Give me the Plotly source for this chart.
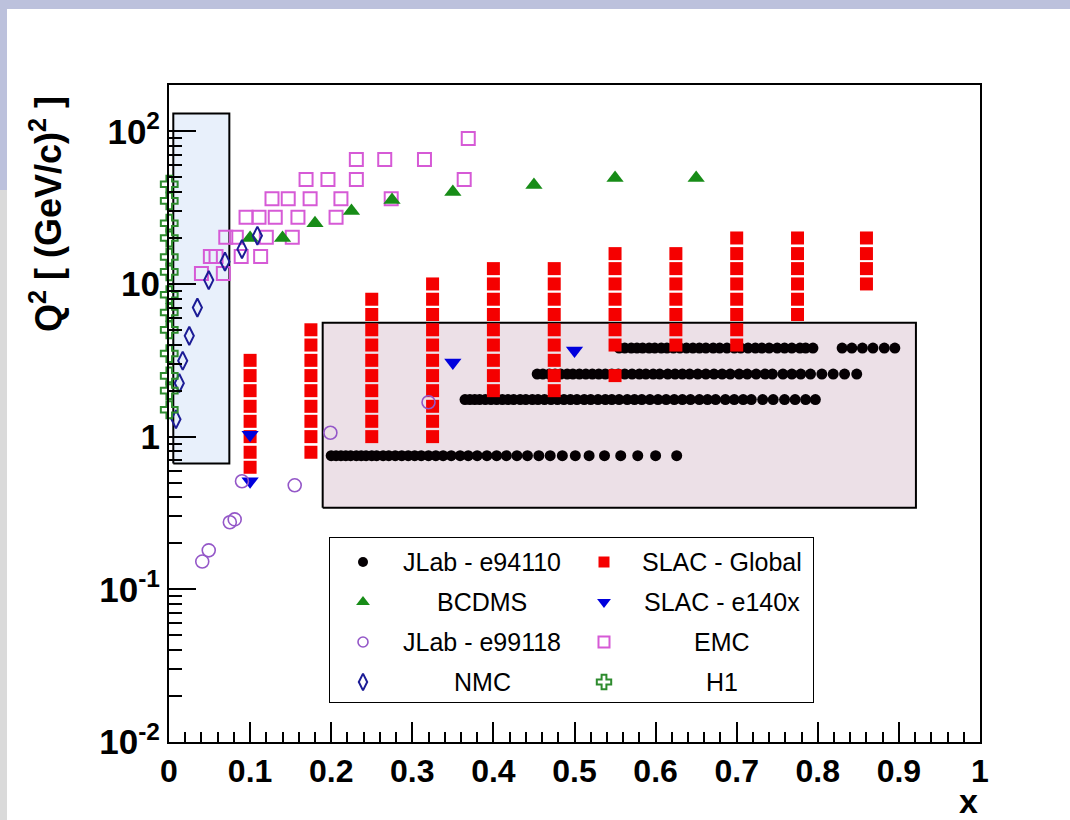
import plotly.graph_objects as go

# ------------------------------------------------------------------ data
# JLab - e94110 : rows of constant Q^2
jlab94110_q2_rows = [0.75, 1.75, 2.57, 3.8]
jlab94110_x_row1 = [0.200, 0.206, 0.212, 0.218, 0.224, 0.231, 0.237, 0.243, 0.250, 0.256,
                    0.264, 0.271, 0.279, 0.287, 0.295, 0.303, 0.311, 0.320, 0.329, 0.338,
                    0.348, 0.359, 0.369, 0.380, 0.392, 0.404, 0.416, 0.429, 0.442, 0.456,
                    0.470, 0.485, 0.501, 0.518, 0.537, 0.557, 0.578, 0.600, 0.626]
jlab94110_x_row2 = [0.365, 0.371, 0.377, 0.383, 0.390, 0.397, 0.404, 0.411, 0.418, 0.425,
                    0.433, 0.440, 0.448, 0.455, 0.463, 0.471, 0.479, 0.487, 0.495, 0.503,
                    0.512, 0.520, 0.529, 0.538, 0.546, 0.555, 0.565, 0.574, 0.583, 0.593,
                    0.603, 0.613, 0.623, 0.633, 0.643, 0.654, 0.664, 0.674, 0.686, 0.697,
                    0.708, 0.718, 0.732, 0.745, 0.759, 0.772, 0.785, 0.797]
jlab94110_x_row3 = [0.454, 0.461, 0.469, 0.476, 0.483, 0.491, 0.498, 0.506, 0.514, 0.522,
                    0.530, 0.538, 0.546, 0.554, 0.562, 0.571, 0.580, 0.588, 0.597, 0.605,
                    0.615, 0.624, 0.633, 0.642, 0.652, 0.662, 0.672, 0.682, 0.692, 0.703,
                    0.713, 0.724, 0.735, 0.744, 0.757, 0.768, 0.779, 0.791, 0.805, 0.819,
                    0.833, 0.848]
jlab94110_x_row4 = [0.555, 0.562, 0.570, 0.577, 0.584, 0.592, 0.599, 0.607, 0.614, 0.622,
                    0.630, 0.638, 0.646, 0.654, 0.662, 0.671, 0.679, 0.688, 0.697, 0.705,
                    0.714, 0.723, 0.731, 0.740, 0.750, 0.759, 0.768, 0.778, 0.785, 0.794,
                    0.830, 0.842, 0.855, 0.868, 0.882, 0.895]

# SLAC - Global : columns of constant x
slac_x_cols = [0.1, 0.175, 0.25, 0.325, 0.4, 0.475, 0.55, 0.625, 0.7, 0.775, 0.86]
slac_q2_cols = [
    [0.63, 0.79, 1.0, 1.26, 1.58, 2.0, 2.51, 3.16],
    [0.79, 1.0, 1.26, 1.58, 2.0, 2.51, 3.16, 3.98, 5.01],
    [1.0, 1.26, 1.58, 2.0, 2.51, 3.16, 3.98, 5.01, 6.31, 7.94],
    [1.0, 1.26, 1.58, 2.0, 2.51, 3.16, 3.98, 5.01, 6.31, 7.94, 10.0],
    [2.0, 2.51, 3.16, 3.98, 5.01, 6.31, 7.94, 10.0, 12.6],
    [2.0, 2.51, 3.16, 3.98, 5.01, 6.31, 7.94, 10.0, 12.6],
    [2.51, 3.98, 5.01, 6.31, 7.94, 10.0, 12.6, 15.8],
    [3.98, 5.01, 6.31, 7.94, 10.0, 12.6, 15.8],
    [3.98, 5.01, 6.31, 7.94, 10.0, 12.6, 15.8, 20.0],
    [6.31, 7.94, 10.0, 12.6, 15.8, 20.0],
    [10.0, 12.6, 15.8, 20.0],
]

bcdms_x = [0.10, 0.14, 0.18, 0.225, 0.275, 0.35, 0.45, 0.55, 0.65]
bcdms_q2 = [20.0, 20.0, 25.0, 30.0, 35.5, 40.0, 44.5, 49.5, 49.5]

e140x_x = [0.1, 0.1, 0.35, 0.5]
e140x_q2 = [0.51, 1.03, 3.06, 3.66]

e99118_x = [0.041, 0.049, 0.075, 0.081, 0.090, 0.155, 0.199, 0.320]
e99118_q2 = [0.152, 0.180, 0.275, 0.287, 0.51, 0.48, 1.06, 1.68]

emc_x = [0.369, 0.231, 0.266, 0.315, 0.169, 0.196, 0.231, 0.364,
         0.127, 0.147, 0.174, 0.212, 0.274, 0.095, 0.111, 0.131, 0.159, 0.206,
         0.070, 0.083, 0.120, 0.152, 0.051, 0.058, 0.089, 0.113, 0.040, 0.067]
emc_q2 = [89.6, 65.3, 65.3, 65.3, 48.3, 48.3, 48.3, 48.3,
          36.1, 36.1, 36.1, 36.1, 36.1, 27.3, 27.3, 27.3, 27.3, 27.3,
          20.2, 20.2, 20.2, 20.2, 15.1, 15.1, 15.1, 15.1, 11.7, 11.7]

nmc_x = [0.0086, 0.0127, 0.0169, 0.025, 0.035, 0.049, 0.069, 0.090, 0.109]
nmc_q2 = [1.30, 2.24, 3.14, 4.57, 7.0, 10.6, 14.0, 16.9, 20.7]

h1_x = [0.0003] * 13
h1_q2 = [1.5, 2.0, 2.5, 3.5, 5.0, 6.5, 8.5, 12.0, 15.0, 20.0, 25.0, 35.0, 45.0]

# highlighted regions (x range, Q^2 range)
low_x_region_x = [0.0053, 0.0744]
low_x_region_q2 = [0.667, 130.6]
jlab_region_x = [0.1895, 0.921]
jlab_region_q2 = [0.342, 5.58]

x_tick_vals = [0, 0.1, 0.2, 0.3, 0.4, 0.5, 0.6, 0.7, 0.8, 0.9, 1.0]
x_tick_text = ["0", "0.1", "0.2", "0.3", "0.4", "0.5", "0.6", "0.7", "0.8", "0.9", "1"]
y_tick_vals = [0.01, 0.1, 1, 10, 100]
y_tick_text = ["10<sup>-2</sup>", "10<sup>-1</sup>", "1", "10", "10<sup>2</sup>"]

legend_labels = ["JLab - e94110", "SLAC - Global", "BCDMS", "SLAC - e140x",
                 "JLab - e99118", "EMC", "NMC", "H1"]

# ------------------------------------------------------------------ layout geometry
W, H = 1070, 820
L, R, T, B = 169, 980, 85, 742   # plot area in pixels
PW, PH = R - L, B - T


def px_x(px):
    return (px - L) / PW


def px_y(py):
    return (B - py) / PH


FONT = "Liberation Sans, Arial, Helvetica, sans-serif"

styles = {
    "JLab - e94110": dict(symbol="circle", size=11, color="#050003"),
    "SLAC - Global": dict(symbol="square", size=13, color="#f50000"),
    "BCDMS": dict(symbol="triangle-up", size=15, color="#178c17"),
    "SLAC - e140x": dict(symbol="triangle-down", size=15, color="#0000dd"),
    "JLab - e99118": dict(symbol="circle-open", size=13, color="#9457c8", line=dict(width=1.6)),
    "EMC": dict(symbol="square-open", size=13, color="#d65ad6", line=dict(width=2)),
    "NMC": dict(symbol="diamond-tall-open", size=13, color="#1c1c96", line=dict(width=2)),
    "H1": dict(symbol="cross-open", size=14, color="#2e8b2e", line=dict(width=2)),
}
legend_sizes = {"JLab - e94110": 10, "SLAC - Global": 11, "BCDMS": 12, "SLAC - e140x": 12,
                "JLab - e99118": 10, "EMC": 11, "NMC": 12, "H1": 12}

fig = go.Figure()

# regions
for rx, rq, fillc in [(low_x_region_x, low_x_region_q2, "#e8f0fb"),
                      (jlab_region_x, jlab_region_q2, "#ece0e7")]:
    fig.add_trace(go.Scatter(
        x=[rx[0], rx[1], rx[1], rx[0], rx[0]],
        y=[rq[0], rq[0], rq[1], rq[1], rq[0]],
        mode="lines", fill="toself", fillcolor=fillc,
        line=dict(color="black", width=2), hoverinfo="skip", showlegend=False))

# JLab e94110
jx, jy = [], []
for q2, row in zip(jlab94110_q2_rows,
                   [jlab94110_x_row1, jlab94110_x_row2, jlab94110_x_row3, jlab94110_x_row4]):
    jx += row
    jy += [q2] * len(row)
fig.add_trace(go.Scatter(x=jx, y=jy, mode="markers", marker=styles["JLab - e94110"],
                         name="JLab - e94110", showlegend=False))

# SLAC global
sx, sy = [], []
for xc, col in zip(slac_x_cols, slac_q2_cols):
    sx += [xc] * len(col)
    sy += col
fig.add_trace(go.Scatter(x=sx, y=sy, mode="markers", marker=styles["SLAC - Global"],
                         name="SLAC - Global", showlegend=False))

fig.add_trace(go.Scatter(x=emc_x, y=emc_q2, mode="markers", marker=styles["EMC"],
                         name="EMC", showlegend=False))
fig.add_trace(go.Scatter(x=bcdms_x, y=bcdms_q2, mode="markers", marker=styles["BCDMS"],
                         name="BCDMS", showlegend=False))
fig.add_trace(go.Scatter(x=nmc_x, y=nmc_q2, mode="markers", marker=styles["NMC"],
                         name="NMC", showlegend=False, cliponaxis=False))
fig.add_trace(go.Scatter(x=e140x_x, y=e140x_q2, mode="markers", marker=styles["SLAC - e140x"],
                         name="SLAC - e140x", showlegend=False))
fig.add_trace(go.Scatter(x=e99118_x, y=e99118_q2, mode="markers", marker=styles["JLab - e99118"],
                         name="JLab - e99118", showlegend=False))
fig.add_trace(go.Scatter(x=h1_x, y=h1_q2, mode="markers", marker=styles["H1"],
                         name="H1", showlegend=False, cliponaxis=False))

# ------------------------------------------------------------------ manual legend
LEG = dict(x0=330, x1=813, y0=538, y1=702)
leg_marker_px = [363, 604]
leg_text_px = [482, 722]
leg_row_py = [562, 602, 642, 682]
annotations = []
for i, lab in enumerate(legend_labels):
    r, c = divmod(i, 2)
    st = dict(styles[lab])
    st["size"] = legend_sizes[lab]
    fig.add_trace(go.Scatter(
        x=[(leg_marker_px[c] - LEG["x0"]) / (LEG["x1"] - LEG["x0"])],
        y=[(LEG["y1"] - leg_row_py[r]) / (LEG["y1"] - LEG["y0"])],
        xaxis="x2", yaxis="y2", mode="markers", marker=st,
        hoverinfo="skip", showlegend=False))
    annotations.append(dict(
        x=px_x(leg_text_px[c]), y=px_y(leg_row_py[r]), xref="paper", yref="paper",
        text=lab, showarrow=False, xanchor="center", yanchor="middle",
        font=dict(family=FONT, size=25, color="black")))

# axis titles
annotations.append(dict(
    x=px_x(46), y=px_y(214), xref="paper", yref="paper",
    text="Q<sup>2</sup> [ (GeV/c)<sup>2</sup> ]", textangle=-90, showarrow=False,
    xanchor="center", yanchor="middle",
    font=dict(family=FONT, size=36, color="black", weight="bold")))
annotations.append(dict(
    x=px_x(968), y=px_y(801), xref="paper", yref="paper", text="x", showarrow=False,
    xanchor="center", yanchor="middle",
    font=dict(family=FONT, size=34, color="black", weight="bold")))

shapes = [
    # page decorations
    dict(type="rect", xref="paper", yref="paper", x0=px_x(0), x1=px_x(W), y0=px_y(9), y1=px_y(0),
         fillcolor="#bcc1dc", line=dict(width=0), layer="below"),
    dict(type="rect", xref="paper", yref="paper", x0=px_x(0), x1=px_x(7), y0=px_y(190), y1=px_y(0),
         fillcolor="#bcc1dc", line=dict(width=0), layer="below"),
    dict(type="rect", xref="paper", yref="paper", x0=px_x(0), x1=px_x(7), y0=px_y(H), y1=px_y(190),
         fillcolor="#dadada", line=dict(width=0), layer="below"),
    # legend box
    dict(type="rect", xref="paper", yref="paper",
         x0=px_x(LEG["x0"]), x1=px_x(LEG["x1"]), y0=px_y(LEG["y1"]), y1=px_y(LEG["y0"]),
         fillcolor="white", line=dict(color="black", width=2), layer="below"),
]

x_minor = [round(0.02 * k, 2) for k in range(1, 50) if k % 5 != 0]
y_minor = [m * 10.0 ** e for e in range(-2, 3) for m in range(2, 10) if m * 10.0 ** e < 200]

fig.update_layout(
    width=W, height=H,
    margin=dict(l=L, r=W - R, t=T, b=H - B),
    paper_bgcolor="white", plot_bgcolor="white",
    showlegend=False,
    shapes=shapes,
    annotations=annotations,
    xaxis=dict(range=[0, 1], showgrid=False, zeroline=False,
               showline=True, linecolor="black", linewidth=2, mirror=True,
               tickmode="array", tickvals=x_tick_vals, ticktext=x_tick_text,
               ticks="inside", ticklen=20, tickwidth=1.5, tickcolor="black",
               tickfont=dict(family=FONT, size=32, color="black", weight="bold"),
               minor=dict(tickmode="array", tickvals=x_minor, ticks="inside", ticklen=10,
                          tickwidth=1.5, tickcolor="black", showgrid=False)),
    yaxis=dict(type="log", range=[-2, 2.303], showgrid=False, zeroline=False,
               showline=True, linecolor="black", linewidth=2, mirror=True,
               tickmode="array", tickvals=y_tick_vals, ticktext=y_tick_text,
               ticks="inside", ticklen=27, tickwidth=1.5, tickcolor="black",
               tickfont=dict(family=FONT, size=35, color="black", weight="bold"),
               minor=dict(tickmode="array", tickvals=y_minor, ticks="inside", ticklen=13,
                          tickwidth=1.5, tickcolor="black", showgrid=False)),
    xaxis2=dict(domain=[px_x(LEG["x0"]), px_x(LEG["x1"])], range=[0, 1], visible=False,
                anchor="y2", fixedrange=True),
    yaxis2=dict(domain=[px_y(LEG["y1"]), px_y(LEG["y0"])], range=[0, 1], visible=False,
                anchor="x2", fixedrange=True),
)

fig.write_html("out.html")
